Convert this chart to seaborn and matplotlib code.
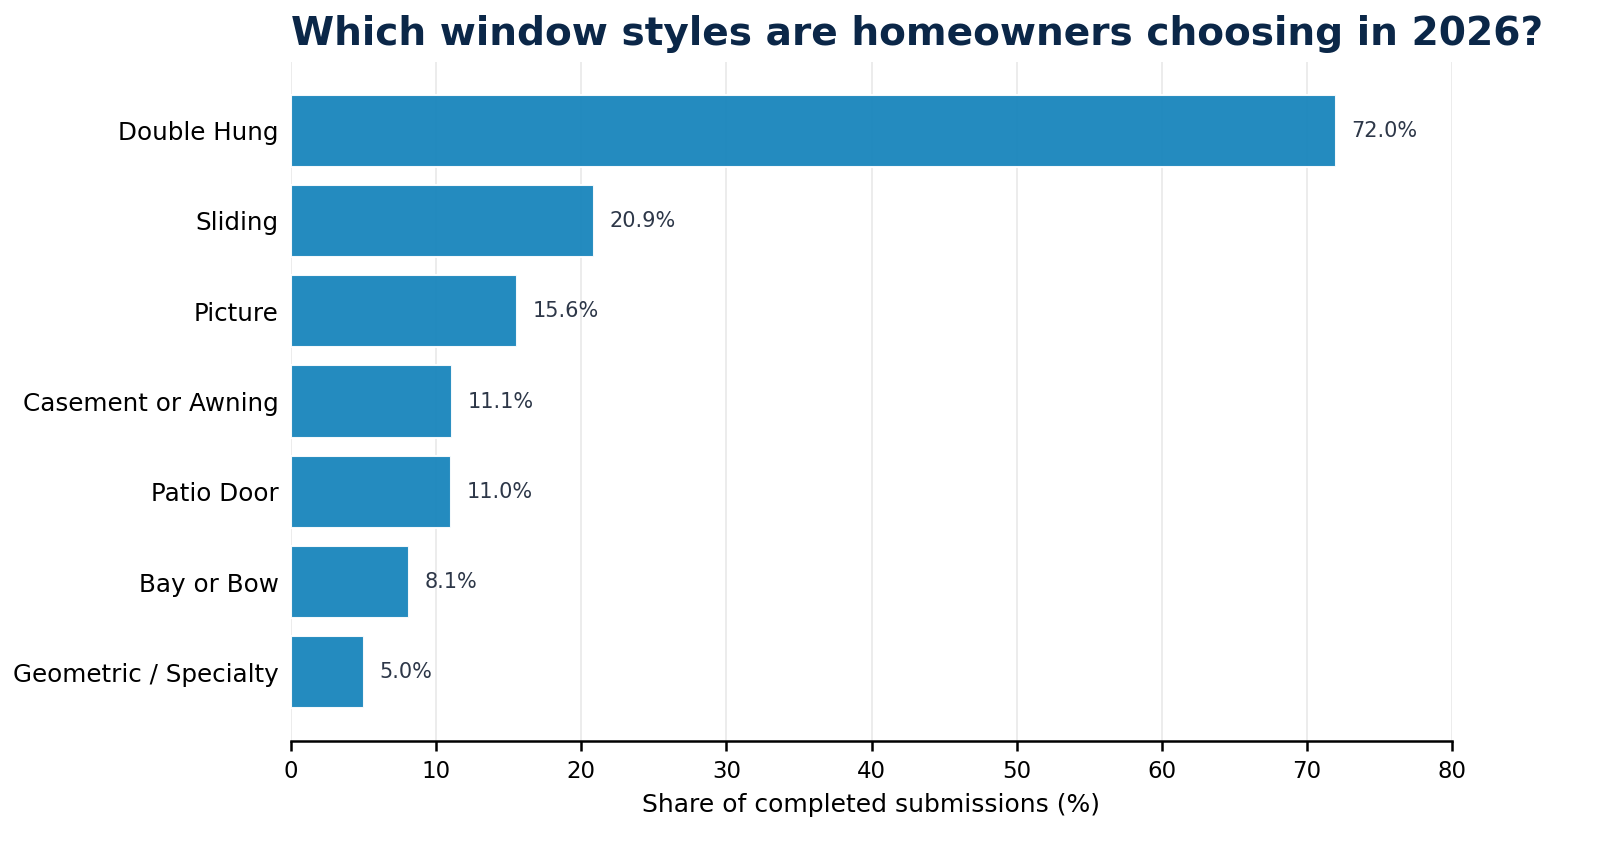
import pandas as pd
import seaborn as sns
import matplotlib.pyplot as plt

# window style shares (% of completed submissions)
styles = ["Double Hung", "Sliding", "Picture", "Casement or Awning",
          "Patio Door", "Bay or Bow", "Geometric / Specialty"]
shares = [72.0, 20.9, 15.6, 11.1, 11.0, 8.1, 5.0]
x_ticks = [0, 10, 20, 30, 40, 50, 60, 70, 80]

df = pd.DataFrame({"style": styles, "share": shares})

sns.set_theme(style="white")
plt.rcParams["font.family"] = ["DejaVu Sans"]

fig = plt.figure(figsize=(1597 / 150, 846 / 150), dpi=150)
ax = fig.add_axes([291 / 1597, 1 - 741 / 846, (1452 - 291) / 1597, (741 - 62) / 846])

sns.barplot(data=df, x="share", y="style", color="#1885BC", saturation=1,
            width=0.8, alpha=0.95, ax=ax, zorder=2)

for i, v in enumerate(shares):
    ax.annotate(f"{v:.1f}%", xy=(v, i), xytext=(7.5, 0), textcoords="offset points",
                va="center", ha="left", fontsize=10, color="#2d3748")

ax.set_xlim(0, 80)
ax.set_ylim(6.76, -0.76)
ax.set_xticks(x_ticks)
ax.tick_params(axis="x", bottom=True, labelsize=11, length=5, width=1.2,
               color="black", labelcolor="black", pad=4)
ax.tick_params(axis="y", left=False, labelsize=11.8, length=0, labelcolor="black", pad=6)
ax.xaxis.grid(True, color="#ebebeb", linewidth=0.9, zorder=0)
ax.set_axisbelow(True)

for side in ["top", "right", "left"]:
    ax.spines[side].set_visible(False)
ax.spines["bottom"].set_color("black")
ax.spines["bottom"].set_linewidth(1.2)

ax.set_xlabel("Share of completed submissions (%)", fontsize=12, color="black", labelpad=5)
ax.set_ylabel("")
ax.set_title("Which window styles are homeowners choosing in 2026?", loc="left",
             fontsize=18.8, fontweight="bold", color="#0b2748", pad=8)

fig.savefig("out.png", dpi=150)
